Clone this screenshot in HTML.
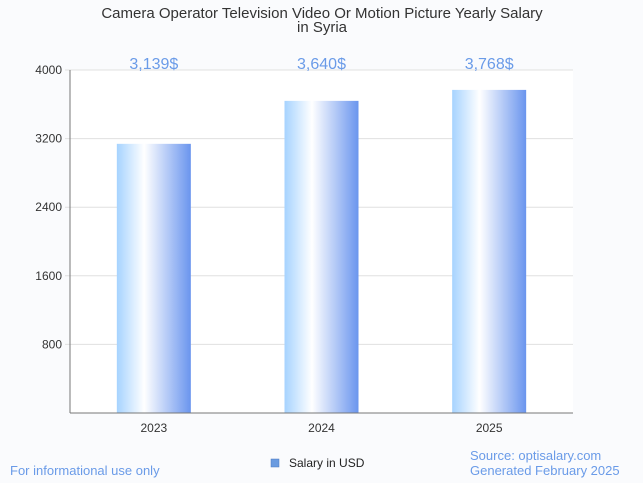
<!DOCTYPE html>
<html><head><meta charset="utf-8"><style>
body{margin:0;background:#fafbfd;font-family:"Liberation Sans",sans-serif;}
svg{display:block}
</style></head><body>
<svg width="643" height="483" xmlns="http://www.w3.org/2000/svg">
<defs><linearGradient id="g" x1="0" x2="1" y1="0" y2="0">
<stop offset="0" stop-color="#a6d3ff"/><stop offset="0.37" stop-color="#ffffff"/><stop offset="1" stop-color="#6a95ee"/></linearGradient></defs>
<rect x="0" y="0" width="643" height="483" fill="#fafbfd"/>
<text x="322" y="18" text-anchor="middle" font-size="15" fill="#333">Camera Operator Television Video Or Motion Picture Yearly Salary</text>
<text x="322" y="32" text-anchor="middle" font-size="15" fill="#333">in Syria</text>
<rect x="70" y="70" width="503" height="343" fill="#fff"/>
<g id="grid"></g><g id="bars"></g>
<line x1="70" y1="70" x2="70" y2="413" stroke="#777"/>
<line x1="70" y1="413" x2="573" y2="413" stroke="#777"/>
<rect x="271" y="459" width="8" height="8" fill="#6a9be0" stroke="#4a7bc0" stroke-width="0.5"/>
<text x="289" y="467" font-size="12" fill="#222">Salary in USD</text>
<text x="10" y="475" font-size="13" fill="#6a9be8">For informational use only</text>
<text x="470" y="460" font-size="13" fill="#6a9be8">Source: optisalary.com</text>
<text x="470" y="475" font-size="13" fill="#6a9be8">Generated February 2025</text>
</svg>
<script>
const categories=["2023","2024","2025"];
const values=[3139,3640,3768];
const valueLabels=["3,139$","3,640$","3,768$"];
const ticks=[800,1600,2400,3200,4000];
const ns="http://www.w3.org/2000/svg";
const x0=70,x1=573,y0=413,y1=70,ymax=4000;
const y=v=>y0-(v/ymax)*(y0-y1);
const band=(x1-x0)/categories.length;
const xc=i=>x0+band*(i+0.5);
const grid=document.getElementById('grid'),bars=document.getElementById('bars');
function mk(t,a,p){const e=document.createElementNS(ns,t);for(const k in a)e.setAttribute(k,a[k]);p.appendChild(e);return e;}
ticks.forEach(t=>{
 const l=mk('line',{x1:x0-5,x2:x1,y1:y(t),y2:y(t),stroke:'#e0e0e0'},grid);
 
 
 const tx=mk('text',{x:x0-8,y:y(t)+4,'text-anchor':'end','font-size':12,fill:'#333'},grid);
 tx.textContent=t;
 
 
});
categories.forEach((c,i)=>{
 const w=74;
 const r=mk('rect',{x:xc(i)-w/2,y:y(values[i]),width:w,height:y0-y(values[i]),fill:'url(#g)'},bars);
 
 
 const v=mk('text',{x:xc(i),y:69,'text-anchor':'middle','font-size':16,fill:'#6a9be8'},bars);
 v.textContent=valueLabels[i];
 
 
 const xl=mk('text',{x:xc(i),y:432,'text-anchor':'middle','font-size':12,fill:'#333'},bars);
 xl.textContent=c;
 
 
});
</script>
</body></html>
